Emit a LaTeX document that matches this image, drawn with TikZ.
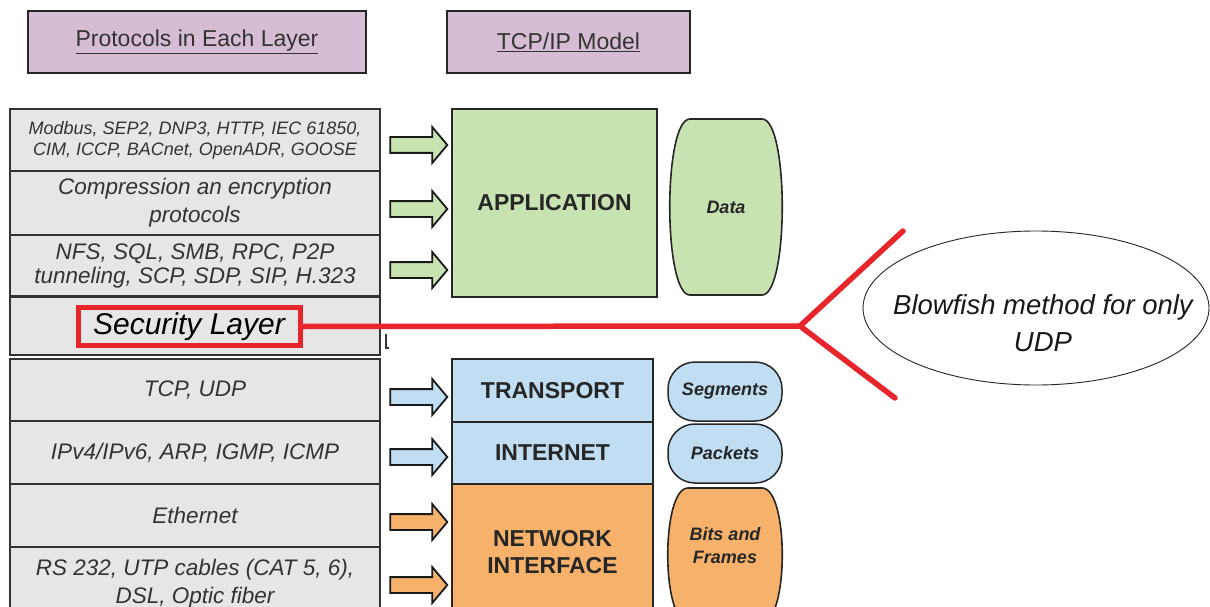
\documentclass[tikz,border=0pt]{standalone}
\usepackage{fontspec}
\setmainfont{Liberation Sans}
\usetikzlibrary{shapes.arrows,shapes.geometric}
\definecolor{lilac}{HTML}{D5BDD4}
\definecolor{lgray}{HTML}{E6E6E6}
\definecolor{appgreen}{HTML}{C8E2B2}
\definecolor{tblue}{HTML}{C0DDF1}
\definecolor{norange}{HTML}{F6B26B}
\definecolor{redline}{HTML}{E8252B}
\definecolor{txt}{HTML}{333333}
\newcommand{\barrelpath}[4]{(#1+20,#2) -- (#3-20,#2) .. controls (#3+7,#2) and (#3+7,#4) .. (#3-20,#4) -- (#1+20,#4) .. controls (#1-7,#4) and (#1-7,#2) .. (#1+20,#2) -- cycle}
\tikzset{
  hdr/.style={draw=black!85, line width=1.6, fill=lilac, inner sep=0, outer sep=0, minimum height=62, text=txt, font=\fontsize{23}{27}\selectfont},
  lbox/.style={draw=black!80, line width=1.5, fill=lgray, minimum width=370, inner sep=0, outer sep=0, align=center, text=txt, font=\itshape\fontsize{22.5}{28}\selectfont},
  mbox/.style={draw=black!85, line width=1.5, inner sep=0, outer sep=0, align=center, text=black!85, font=\bfseries\fontsize{23}{28}\selectfont},
  pill/.style={draw=black!85, line width=1.5, rounded corners=27, minimum width=114, inner sep=0, outer sep=0, align=center, text=black!85, font=\bfseries\itshape\fontsize{18}{23}\selectfont},
  ptxt/.style={inner sep=0, align=center, text=black!85, font=\bfseries\itshape\fontsize{18}{23}\selectfont},
  barr/.style={single arrow, draw=black!90, line width=1.8, minimum height=57, inner sep=7, single arrow head extend=10, single arrow tip angle=100},
  redpen/.style={draw=redline, line width=5.5}
}
\begin{document}
\begin{tikzpicture}[x=1pt,y=-1pt]
\useasboundingbox (0,0) rectangle (1210,607);
\clip (0,0) rectangle (1210,607);
\fill[white] (0,0) rectangle (1210,607);

% headers
\node[hdr, minimum width=338] (h1) at (197,42) {\underline{Protocols in Each Layer}};
\node[hdr, minimum width=243] (h2) at (568.5,42) {\underline{TCP/IP Model}};

% left column
\node[lbox, minimum height=62, font=\itshape\fontsize{18}{21}\selectfont] (r1) at (195,140) {Modbus, SEP2, DNP3, HTTP, IEC 61850,\\CIM, ICCP, BACnet, OpenADR, GOOSE};
\node[lbox, minimum height=64] (r2) at (195,203) {Compression an encryption\\protocols};
\node[lbox, minimum height=61, font=\itshape\fontsize{22.5}{24}\selectfont] (r3) at (195,265.5) {NFS, SQL, SMB, RPC, P2P\\tunneling, SCP, SDP, SIP, H.323};
\node[lbox, minimum height=58] (sec) at (195,326) {};
\node[draw=redline, line width=5, fill=lgray, minimum width=222, minimum height=38, inner sep=0, text=black, font=\itshape\fontsize{30}{32}\selectfont] (secl) at (189,326.5) {Security Layer};
\node[lbox, minimum height=62] (r4) at (195,390) {TCP, UDP};
\node[lbox, minimum height=63] (r5) at (195,452.5) {IPv4/IPv6, ARP, IGMP, ICMP};
\node[lbox, minimum height=63] (r6) at (195,515.5) {Ethernet};
\node[lbox, minimum height=73] (r7) at (195,583.5) {RS 232, UTP cables (CAT 5, 6),\\DSL, Optic fiber};

% small mark
\draw[line width=1.3, black!80] (386,334) -- (386,348) -- (389,348);

% model boxes
\node[mbox, fill=appgreen, minimum width=205, minimum height=188] (app) at (554.5,203) {APPLICATION};
\node[mbox, fill=tblue, minimum width=201, minimum height=63] (tra) at (552.5,390.5) {TRANSPORT};
\node[mbox, fill=tblue, minimum width=201, minimum height=62] (int) at (552.5,453) {INTERNET};
\node[mbox, fill=norange, minimum width=201, minimum height=136, font=\bfseries\fontsize{23}{27}\selectfont] (net) at (552.5,552) {NETWORK\\INTERFACE};

% arrows
\node[barr, fill=appgreen] (a1) at (415.5,145) {};
\node[barr, fill=appgreen] (a2) at (415.5,209) {};
\node[barr, fill=appgreen] (a3) at (415.5,270) {};
\node[barr, fill=tblue] (a4) at (415.5,397) {};
\node[barr, fill=tblue] (a5) at (415.5,457) {};
\node[barr, fill=norange] (a6) at (415.5,522) {};
\node[barr, fill=norange] (a7) at (415.5,585) {};

% data units
\draw[line width=1.6, draw=black!85, fill=appgreen] \barrelpath{670}{119}{782}{295};
\node[ptxt] (data) at (726,207) {Data};
\node[pill, fill=tblue, minimum height=59] (seg) at (725,391.5) {Segments};
\node[pill, fill=tblue, minimum height=59] (pak) at (725,453.5) {Packets};
\draw[line width=1.6, draw=black!85, fill=norange] \barrelpath{668}{488}{782}{622};
\node[ptxt] (bits) at (725,546) {Bits and\\Frames};

% ellipse note
\node[draw=black!85, line width=0.9, ellipse, minimum width=346, minimum height=154, inner sep=0] (ell) at (1036,308) {};
\node[inner sep=0, align=center, text=black!90, font=\itshape\fontsize{27.5}{37}\selectfont] (note) at (1043,323) {Blowfish method for only\\UDP};

% red connector
\coordinate (fork) at (800,326);
\coordinate (up) at (903,231);
\coordinate (dn) at (895,398);
\draw[redpen, line cap=round] (secl.east) -- (fork);
\draw[redpen, line cap=round] (up) -- (fork) -- (dn);
\end{tikzpicture}
\end{document}
